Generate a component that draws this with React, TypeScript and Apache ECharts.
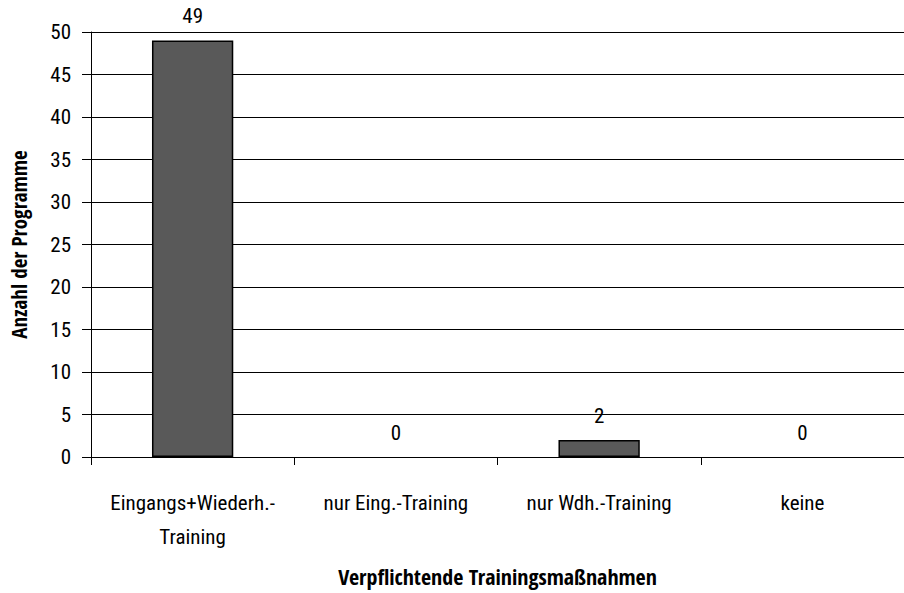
import React, { useEffect, useRef } from "react";
import * as echarts from "echarts";

const categories = ["Eingangs+Wiederh.-\nTraining", "nur Eing.-Training", "nur Wdh.-Training", "keine"];
const values = [49, 0, 2, 0];
const yTitle = "Anzahl der Programme";
const xTitle = "Verpflichtende Trainingsmaßnahmen";

const FONT = "'Roboto Condensed', 'DejaVu Sans Condensed', sans-serif";
const BOLD_FONT = "'Open Sans Condensed', 'Roboto Condensed', sans-serif";

export default function App() {
  const ref = useRef<HTMLDivElement>(null);
  useEffect(() => {
    const chart = echarts.init(ref.current!, null, { renderer: "svg" });
    chart.setOption({
      animation: false,
      backgroundColor: "#ffffff",
      textStyle: { fontFamily: FONT, color: "#000" },
      grid: { left: 88, top: 32, right: -10, bottom: 136, containLabel: false },
      xAxis: {
        type: "category",
        data: categories,
        name: xTitle,
        nameLocation: "middle",
        nameGap: 108,
        nameTextStyle: { fontFamily: BOLD_FONT, fontSize: 22, fontWeight: "bold", color: "#000" },
        axisLine: { lineStyle: { color: "#000", width: 1 } },
        axisTick: { show: true, length: 8, alignWithLabel: false, lineStyle: { color: "#000" } },
        axisLabel: { fontFamily: FONT, fontSize: 21, color: "#000", margin: 29, lineHeight: 34, interval: 0 },
      },
      yAxis: {
        type: "value",
        min: 0,
        max: 50,
        interval: 5,
        name: yTitle,
        nameLocation: "middle",
        nameGap: 62,
        nameRotate: 90,
        nameTextStyle: { fontFamily: BOLD_FONT, fontSize: 21, fontWeight: "bold", color: "#000" },
        axisLine: { show: true, lineStyle: { color: "#000", width: 1 } },
        axisTick: { show: true, length: 9, lineStyle: { color: "#000" } },
        axisLabel: { fontFamily: FONT, fontSize: 21, color: "#000", margin: 20 },
        splitLine: { show: true, lineStyle: { color: "#000", width: 1 } },
      },
      series: [
        {
          type: "bar",
          data: values.map((v) => (v === 0 ? { value: v, itemStyle: { borderWidth: 0 } } : v)),
          barWidth: "40%",
          itemStyle: { color: "#595959", borderColor: "#000", borderWidth: 1.5 },
          label: {
            show: true,
            position: "top",
            distance: 14,
            fontFamily: FONT,
            fontSize: 21,
            color: "#000",
          },
        },
      ],
    });
    return () => chart.dispose();
  }, []);
  return <div ref={ref} style={{ width: 904, height: 593, position: "absolute", left: 0, top: 0 }} />;
}
